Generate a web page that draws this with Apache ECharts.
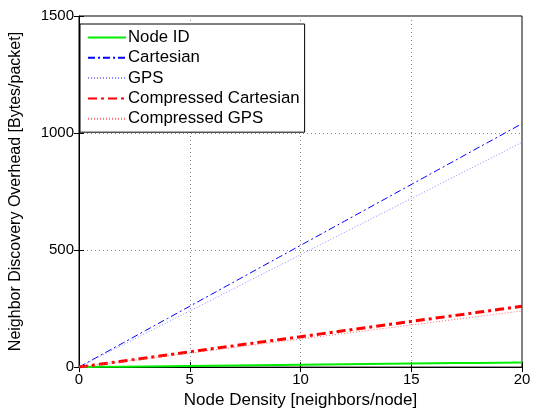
<!DOCTYPE html>
<html><head><meta charset="utf-8">
<script src="https://cdn.jsdelivr.net/npm/echarts@6/dist/echarts.min.js"></script>
<style>html,body{margin:0;padding:0;background:#fff}#c{width:542px;height:414px}</style>
</head><body><div id="c"></div>
<script>
var density = [0,1,2,3,4,5,6,7,8,9,10,11,12,13,14,15,16,17,18,19,20];
var nodeId = [0,1,2,3,4,5,6,7,8,9,10,11,12,13,14,15,16,17,18,19,20];
var cartesian = [0,52,104,156,208,260,312,364,416,468,520,572,624,676,728,780,832,884,936,988,1040];
var gps = [0,48,96,144,192,240,288,336,384,432,480,528,576,624,672,720,768,816,864,912,960];
var compCartesian = [0,13,26,39,52,65,78,91,104,117,130,143,156,169,182,195,208,221,234,247,260];
var compGps = [0,12,24,36,48,60,72,84,96,108,120,132,144,156,168,180,192,204,216,228,240];
var seriesNames = ['Node ID','Cartesian','GPS','Compressed Cartesian','Compressed GPS'];

function pairs(ys){return density.map(function(x,i){return [x,ys[i]];});}
var font = 'Liberation Sans';
var chart = echarts.init(document.getElementById('c'));
function ser(name, data, color, width, type){
  return {name:name,type:'line',data:pairs(data),showSymbol:false,symbol:'none',
    lineStyle:{color:color,width:width,type:type},itemStyle:{color:color},z:3};
}
chart.setOption({
  animation:false,
  backgroundColor:'#fff',
  grid:{left:78,right:20,top:16,bottom:45,show:true,borderColor:'#000',borderWidth:1},
  legend:{orient:'vertical',left:80,top:24,itemWidth:38,itemHeight:15,itemGap:3.3,
    backgroundColor:'#fff',borderColor:'#000',borderWidth:1,padding:[5,5,5,7],
    itemStyle:{opacity:0,color:'rgba(0,0,0,0)',borderWidth:0},
    textStyle:{fontFamily:font,fontSize:16.8,color:'#000',padding:[0,0,0,-3]},
    data:seriesNames},
  xAxis:[{type:'value',min:0,max:20,interval:5,
    name:'Node Density [neighbors/node]',nameLocation:'middle',nameGap:24,
    nameTextStyle:{fontFamily:font,fontSize:17,color:'#000'},
    axisLine:{lineStyle:{color:'#000'}},axisTick:{inside:true,length:5,lineStyle:{color:'#000'}},
    axisLabel:{fontFamily:font,fontSize:15,color:'#000',margin:5},
    splitLine:{show:true,lineStyle:{color:'#888',type:[1,3],width:1}}},
   {type:'value',min:0,max:20,interval:5,position:'top',
    axisLine:{show:false},axisTick:{inside:true,length:5,lineStyle:{color:'#000'}},
    axisLabel:{show:false},splitLine:{show:false}}],
  yAxis:[{type:'value',min:0,max:1500,interval:500,
    name:'Neighbor Discovery Overhead [Bytes/packet]',nameLocation:'middle',nameGap:55,
    nameTextStyle:{fontFamily:font,fontSize:16,color:'#000'},
    axisLine:{show:true,lineStyle:{color:'#000'}},axisTick:{show:true,inside:true,length:5,lineStyle:{color:'#000'}},
    axisLabel:{fontFamily:font,fontSize:15,color:'#000',margin:5,formatter:function(v){return String(v);}},
    splitLine:{show:true,lineStyle:{color:'#888',type:[1,3],width:1}}},
   {type:'value',min:0,max:1500,interval:500,position:'right',
    axisLine:{show:false},axisTick:{show:true,inside:true,length:5,lineStyle:{color:'#000'}},
    axisLabel:{show:false},splitLine:{show:false}}],
  series:[
    ser(seriesNames[0],nodeId,'#00ee00',2,'solid'),
    ser(seriesNames[1],cartesian,'#0000ff',1,[7,3,2,3]),
    ser(seriesNames[2],gps,'#8888ff',1,[1,2]),
    ser(seriesNames[3],compCartesian,'#ff0000',3,[9,4,3,4]),
    ser(seriesNames[4],compGps,'#ff6666',1,[1,2])
  ]
});
</script></body></html>
